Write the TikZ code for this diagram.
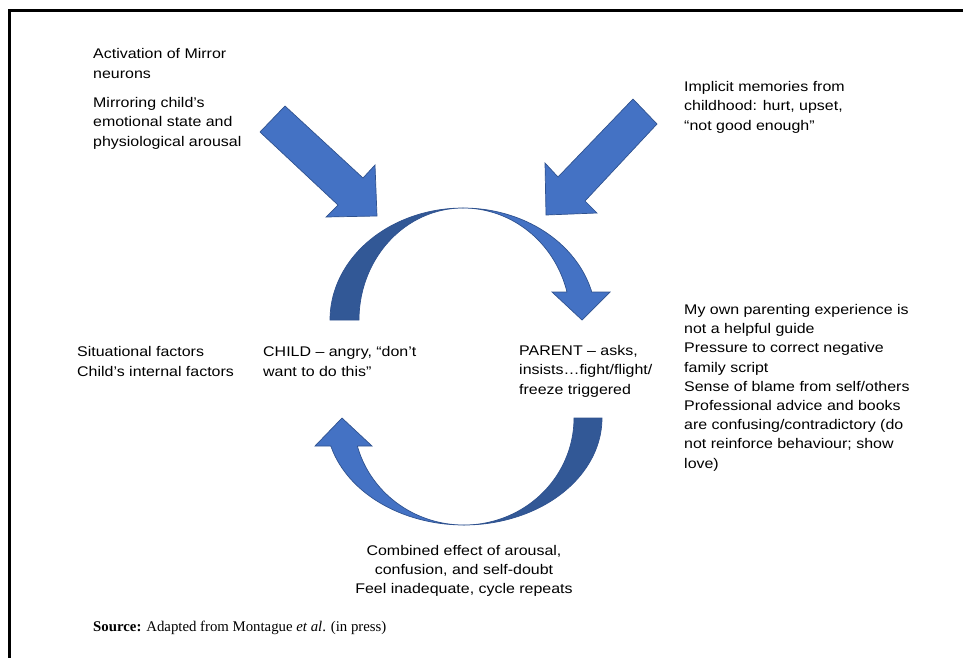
\documentclass[tikz,border=0pt]{standalone}
\usepackage{fontspec}
\setmainfont{Liberation Sans}[FakeStretch=1.14]
\newfontfamily\srcfont{Liberation Serif}
\definecolor{lightblue}{RGB}{68,114,196}
\definecolor{darkband}{RGB}{50,88,150}
\definecolor{edgeblue}{RGB}{47,82,143}
\tikzset{
  txt/.style={anchor=base west, align=left, inner sep=0pt, font=\fontsize{14}{19.2}\selectfont},
  ctxt/.style={anchor=base, align=center, inner sep=0pt, font=\fontsize{14}{18.6}\selectfont},
  lightarrow/.style={fill=lightblue, draw=edgeblue, line width=0.7pt, line join=miter},
  darkarrow/.style={fill=darkband, draw=edgeblue, line width=0.7pt},
  frameline/.style={line width=2.5pt}
}
\begin{document}
\begin{tikzpicture}[x=1pt,y=-1pt]
\useasboundingbox (0,0) rectangle (963,657);
% frame
\draw[frameline] (9.5,660) -- (9.5,10.5) -- (966,10.5);

% straight arrows
\draw[lightarrow] (260,132) -- (285,106) -- (363,178) -- (375,165) -- (377,216) -- (326,217) -- (338,205) -- cycle;
\draw[lightarrow] (633,99) -- (657,124) -- (585,201) -- (597,213) -- (546,215) -- (545,163) -- (558,177) -- cycle;

% upper curved arrow: back band
\draw[darkarrow] (330,320) -- plot[domain=180:270, samples=60] ({463+133*cos(\x)},{320+112*sin(\x)})
  -- plot[domain=270:180, samples=60] ({463+104*cos(\x)},{320+112*sin(\x)}) -- cycle;
% upper curved arrow: front band with head
\draw[lightarrow] (463,208) -- plot[domain=270:345.52, samples=60] ({463+133*cos(\x)},{320+112*sin(\x)})
  -- (610,292) -- (582,320) -- (552,292) -- (567,292)
  -- plot[domain=345.52:270, samples=60] ({463+107.4*cos(\x)},{320+112*sin(\x)}) -- cycle;

% lower curved arrow: back band
\draw[darkarrow] (602,418) -- plot[domain=0:90, samples=60] ({464+138*cos(\x)},{418+107*sin(\x)})
  -- plot[domain=90:0, samples=60] ({464+110*cos(\x)},{418+107*sin(\x)}) -- cycle;
% lower curved arrow: front band with head
\draw[lightarrow] (464,525) -- plot[domain=90:164.83, samples=60] ({464+138*cos(\x)},{418+107*sin(\x)})
  -- (315,446) -- (342,418) -- (372,446) -- (357.3,446)
  -- plot[domain=164.83:90, samples=60] ({464+110.5*cos(\x)},{418+107*sin(\x)}) -- cycle;

% texts (anchored at the baseline of the last line)
\node[txt] (mirror) at (93,78) {Activation of Mirror\\neurons};
\node[txt] (mirroring) at (93,146) {Mirroring child’s\\emotional state and\\physiological arousal};
\node[txt] (implicit) at (684,130) {Implicit memories from\\childhood: hurt, upset,\\“not good enough”};
\node[txt] (own) at (684,468) {My own parenting experience is\\not a helpful guide\\Pressure to correct negative\\family script\\Sense of blame from self/others\\Professional advice and books\\are confusing/contradictory (do\\not reinforce behaviour; show\\love)};
\node[txt] (situational) at (77,376) {Situational factors\\Child’s internal factors};
\node[txt] (child) at (263,376) {CHILD – angry, “don’t\\want to do this”};
\node[txt] (parent) at (519,394) {PARENT – asks,\\insists…fight/flight/\\freeze triggered};
\node[ctxt] (combined) at (464,593) {Combined effect of arousal,\\confusion, and self-doubt\\Feel inadequate, cycle repeats};
\node[anchor=base west, inner sep=0pt, font=\srcfont\fontsize{14.8}{17}\selectfont] (source) at (93,631) {\textbf{Source:} Adapted from Montague \textit{et al}. (in press)};
\end{tikzpicture}
\end{document}
